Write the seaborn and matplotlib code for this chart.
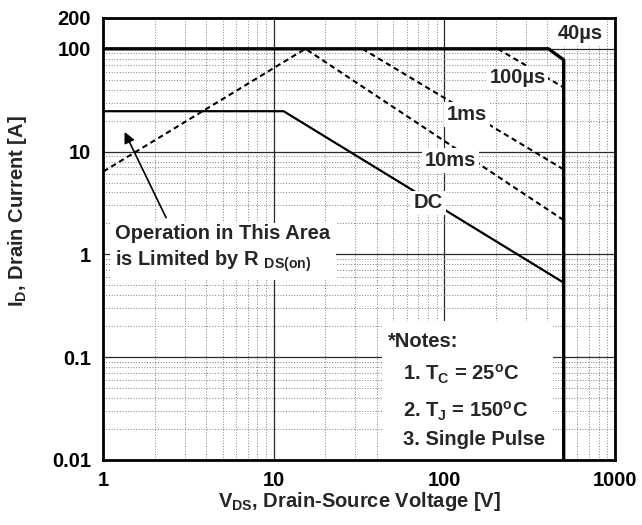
import matplotlib
matplotlib.use("Agg")
import matplotlib.pyplot as plt
import seaborn as sns
from matplotlib.patches import Rectangle
from matplotlib.ticker import LogLocator, NullFormatter

# lecturas de la curva SOA (V_DS en V, I_D en A)
lim_v = [1, 407, 500, 500]          # limite 40us + tension maxima
lim_i = [100, 100, 78, 0.01]
us100_v = [205, 500]
us100_i = [100, 42]
ms1_v = [33, 500]
ms1_i = [100, 6.7]
ms10_v = [1, 15.3, 500]
ms10_i = [6.4, 100, 2.15]
dc_v = [1, 11.4, 500]
dc_i = [24.7, 24.7, 0.53]

xticks = [1, 10, 100, 1000]
xlabels = ["1", "10", "100", "1000"]
yticks = [0.01, 0.1, 1, 10, 100, 200]
ylabels = ["0.01", "0.1", "1", "10", "100", "200"]

curve_labels = ["40µs", "100µs", "1ms", "10ms", "DC"]
label_v = [628, 268, 135, 108, 80.5]
label_i = [140, 52, 23, 8.2, 3.16]

notes = ["*Notes:", r"1. T$_{C}$ = 25$^{o}$C", r"2. T$_{J}$ = 150$^{o}$C", "3. Single Pulse"]
note_v = [46.3, 57.5, 57.5, 57.5]
note_i = [0.1435, 0.068, 0.0295, 0.0157]

sns.set_theme(style="white")
plt.rcParams['font.family'] = ['Liberation Sans', 'DejaVu Sans']
plt.rcParams['font.weight'] = 'bold'
plt.rcParams['mathtext.fontset'] = 'custom'
plt.rcParams['mathtext.rm'] = 'Liberation Sans:bold'
plt.rcParams['mathtext.it'] = 'Liberation Sans:bold'
plt.rcParams['mathtext.bf'] = 'Liberation Sans:bold'
plt.rcParams['mathtext.default'] = 'rm'

fs = 14.5
fig = plt.figure(figsize=(6.42, 5.25), dpi=100)
ax = fig.add_axes([0.161, 0.124, 0.797, 0.842])
ax.set_xscale('log')
ax.set_yscale('log')

dash = (0, (2.6, 1.8))
sns.lineplot(x=lim_v, y=lim_i, ax=ax, color='black', lw=2.4, estimator=None, sort=False, zorder=3)
sns.lineplot(x=us100_v, y=us100_i, ax=ax, color='black', lw=1.5, linestyle=dash, estimator=None, sort=False, zorder=2)
sns.lineplot(x=ms1_v, y=ms1_i, ax=ax, color='black', lw=1.5, linestyle=dash, estimator=None, sort=False, zorder=2)
sns.lineplot(x=ms10_v, y=ms10_i, ax=ax, color='black', lw=1.5, linestyle=dash, estimator=None, sort=False, zorder=2)
sns.lineplot(x=dc_v, y=dc_i, ax=ax, color='black', lw=1.6, estimator=None, sort=False, zorder=2)

ax.set_xlim(1, 1000)
ax.set_ylim(0.01, 200)
ax.set_xticks(xticks)
ax.set_xticklabels(xlabels)
ax.set_yticks(yticks)
ax.set_yticklabels(ylabels)
ax.xaxis.set_minor_locator(LogLocator(base=10, subs=range(2, 10)))
ax.yaxis.set_minor_locator(LogLocator(base=10, subs=range(2, 10)))
ax.xaxis.set_minor_formatter(NullFormatter())
ax.yaxis.set_minor_formatter(NullFormatter())
ax.tick_params(axis='x', which='both', length=0, labelsize=fs, pad=8, colors='black')
ax.tick_params(axis='y', which='both', length=0, labelsize=fs, pad=9, colors='black')
for lab in ax.get_xticklabels() + ax.get_yticklabels():
    lab.set_fontweight('bold')

ax.grid(which='major', color='#2a2a2a', lw=0.9, ls='-', zorder=0)
ax.grid(which='minor', color='#808080', lw=0.7, ls=(0, (1, 1.8)), zorder=0)
ax.set_axisbelow(True)
for s in ax.spines.values():
    s.set_color('black')
    s.set_linewidth(2)

box = dict(facecolor='white', edgecolor='none', pad=2)
for t, v, i in zip(curve_labels, label_v, label_i):
    ax.text(v, i, t, ha='center', va='center', fontsize=fs, fontweight='bold', bbox=box, zorder=4)

ax.text(1.175, 1.12, "Operation in This Area\nis Limited by R $_{DS(on)}$", ha='left', va='center',
        fontsize=fs, fontweight='bold', linespacing=1.3,
        bbox=dict(facecolor='white', edgecolor='none', pad=4), zorder=4)
ax.annotate("", xy=(1.31, 16.4), xytext=(2.37, 2.15),
            arrowprops=dict(arrowstyle='-|>', color='black', lw=1.2, mutation_scale=16), zorder=5)

# cuadro de notas
ax.add_patch(Rectangle((43, 0.0101), 430 - 43, 0.225 - 0.0101, facecolor='white',
                       edgecolor='none', zorder=1.5))
for t, v, i in zip(notes, note_v, note_i):
    ax.text(v, i, t, ha='left', va='center', fontsize=fs, fontweight='bold', zorder=5)

ax.set_xlabel(r"V$_{DS}$, Drain-Source Voltage [V]", fontsize=fs, fontweight='bold')
ax.set_ylabel(r"I$_{D}$, Drain Current [A]", fontsize=fs, fontweight='bold')
ax.xaxis.set_label_coords(0.5, -0.068)
ax.yaxis.set_label_coords(-0.145, 0.563)

fig.savefig("out.png", dpi=100)
